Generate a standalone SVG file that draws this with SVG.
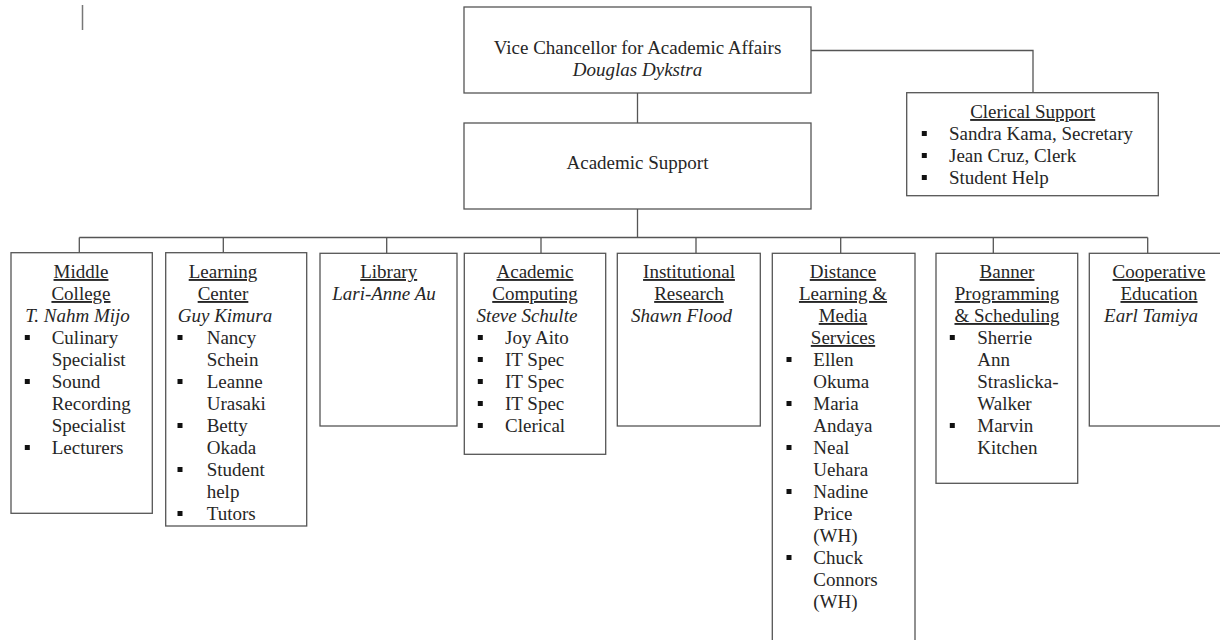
<svg xmlns="http://www.w3.org/2000/svg" width="1220" height="640" viewBox="0 0 1220 640">
<style>
.bx{fill:#fff;stroke:#555;stroke-width:1.3}
.ln{fill:none;stroke:#555;stroke-width:1.3}
.t text{font-family:'Liberation Serif','Times New Roman',Tinos,'DejaVu Serif',serif;font-size:19px;fill:#262626}
.c{text-anchor:middle}
.i{font-style:italic}
.u{text-decoration:underline}
.b{fill:#111}
</style>
<rect width="1220" height="640" fill="#fff"/>
<line x1="82.5" y1="5" x2="82.5" y2="30" stroke="#777" stroke-width="1.5"/>
<g id="connectors">
<path class="ln" d="M637.5,93 V123"/>
<path class="ln" d="M811,50.5 H1033 V92.7"/>
<path class="ln" d="M637.5,209 V237.5"/>
<path class="ln" d="M79.3,237.5 H1147.7"/>
<path class="ln" d="M79.3,237.5 V252.7 M223.3,237.5 V252.7 M386.7,237.5 V253.3 M541,237.5 V253.3 M696,237.5 V253.3 M840.7,237.5 V253.3 M993.3,237.5 V253.3 M1147.7,237.5 V253.3"/>
</g>
<g class="t" font-family="Liberation Serif, serif">
<g id="vc">
<rect class="bx" x="464" y="7" width="347" height="86"/>
<text class="c" x="637.5" y="54">Vice Chancellor for Academic Affairs</text>
<text class="c i" x="637.5" y="76">Douglas Dykstra</text>
</g>
<g id="academic-support">
<rect class="bx" x="464" y="123" width="347" height="86"/>
<text class="c" x="637.5" y="169">Academic Support</text>
</g>
<g id="clerical">
<rect class="bx" x="906.7" y="92.7" width="251.6" height="103"/>
<text class="c u" x="1032.7" y="118">Clerical Support</text>
<rect class="b" x="921.8" y="131" width="5" height="5"/>
<rect class="b" x="921.8" y="153" width="5" height="5"/>
<rect class="b" x="921.8" y="175" width="5" height="5"/>
<text x="949" y="140">Sandra Kama, Secretary</text>
<text x="949" y="162">Jean Cruz, Clerk</text>
<text x="949" y="184">Student Help</text>
</g>
<g id="middle-college">
<rect class="bx" x="11" y="252.7" width="141.3" height="260.6"/>
<text class="c u" x="81" y="278">Middle</text>
<text class="c u" x="81" y="300">College</text>
<text class="c i" x="77.5" y="322">T. Nahm Mijo</text>
<rect class="b" x="24.8" y="335" width="5" height="5"/>
<rect class="b" x="24.8" y="379" width="5" height="5"/>
<rect class="b" x="24.8" y="445" width="5" height="5"/>
<text x="51.7" y="344">Culinary</text>
<text x="51.7" y="366">Specialist</text>
<text x="51.7" y="388">Sound</text>
<text x="51.7" y="410">Recording</text>
<text x="51.7" y="432">Specialist</text>
<text x="51.7" y="454">Lecturers</text>
</g>
<g id="learning-center">
<rect class="bx" x="165.7" y="252.7" width="141" height="273.3"/>
<text class="c u" x="223" y="278">Learning</text>
<text class="c u" x="223" y="300">Center</text>
<text class="c i" x="225" y="322">Guy Kimura</text>
<rect class="b" x="177.5" y="335" width="5" height="5"/>
<rect class="b" x="177.5" y="379" width="5" height="5"/>
<rect class="b" x="177.5" y="423" width="5" height="5"/>
<rect class="b" x="177.5" y="467" width="5" height="5"/>
<rect class="b" x="177.5" y="511" width="5" height="5"/>
<text x="206.7" y="344">Nancy</text>
<text x="206.7" y="366">Schein</text>
<text x="206.7" y="388">Leanne</text>
<text x="206.7" y="410">Urasaki</text>
<text x="206.7" y="432">Betty</text>
<text x="206.7" y="454">Okada</text>
<text x="206.7" y="476">Student</text>
<text x="206.7" y="498">help</text>
<text x="206.7" y="520">Tutors</text>
</g>
<g id="library">
<rect class="bx" x="320" y="253.3" width="137" height="172.7"/>
<text class="c u" x="388.7" y="278">Library</text>
<text class="c i" x="384" y="300">Lari-Anne Au</text>
</g>
<g id="academic-computing">
<rect class="bx" x="464.3" y="253.3" width="141.4" height="201"/>
<text class="c u" x="535" y="278">Academic</text>
<text class="c u" x="535" y="300">Computing</text>
<text class="c i" x="527" y="322">Steve Schulte</text>
<rect class="b" x="477.8" y="335" width="5" height="5"/>
<rect class="b" x="477.8" y="357" width="5" height="5"/>
<rect class="b" x="477.8" y="379" width="5" height="5"/>
<rect class="b" x="477.8" y="401" width="5" height="5"/>
<rect class="b" x="477.8" y="423" width="5" height="5"/>
<text x="505" y="344">Joy Aito</text>
<text x="505" y="366">IT Spec</text>
<text x="505" y="388">IT Spec</text>
<text x="505" y="410">IT Spec</text>
<text x="505" y="432">Clerical</text>
</g>
<g id="institutional-research">
<rect class="bx" x="617.3" y="253.3" width="143" height="172.7"/>
<text class="c u" x="689" y="278">Institutional</text>
<text class="c u" x="689" y="300">Research</text>
<text class="c i" x="681.5" y="322">Shawn Flood</text>
</g>
<g id="distance-learning">
<rect class="bx" x="772.3" y="253.3" width="142.7" height="400"/>
<text class="c u" x="843" y="278">Distance</text>
<text class="c u" x="843" y="300">Learning &amp;</text>
<text class="c u" x="843" y="322">Media</text>
<text class="c u" x="843" y="344">Services</text>
<rect class="b" x="786.5" y="357" width="5" height="5"/>
<rect class="b" x="786.5" y="401" width="5" height="5"/>
<rect class="b" x="786.5" y="445" width="5" height="5"/>
<rect class="b" x="786.5" y="489" width="5" height="5"/>
<rect class="b" x="786.5" y="555" width="5" height="5"/>
<text x="813.3" y="366">Ellen</text>
<text x="813.3" y="388">Okuma</text>
<text x="813.3" y="410">Maria</text>
<text x="813.3" y="432">Andaya</text>
<text x="813.3" y="454">Neal</text>
<text x="813.3" y="476">Uehara</text>
<text x="813.3" y="498">Nadine</text>
<text x="813.3" y="520">Price</text>
<text x="813.3" y="542">(WH)</text>
<text x="813.3" y="564">Chuck</text>
<text x="813.3" y="586">Connors</text>
<text x="813.3" y="608">(WH)</text>
</g>
<g id="banner">
<rect class="bx" x="936" y="253.3" width="141.7" height="230"/>
<text class="c u" x="1007" y="278">Banner</text>
<text class="c u" x="1007" y="300">Programming</text>
<text class="c u" x="1007" y="322">&amp; Scheduling</text>
<rect class="b" x="949.8" y="335" width="5" height="5"/>
<rect class="b" x="949.8" y="423" width="5" height="5"/>
<text x="977.3" y="344">Sherrie</text>
<text x="977.3" y="366">Ann</text>
<text x="977.3" y="388">Straslicka-</text>
<text x="977.3" y="410">Walker</text>
<text x="977.3" y="432">Marvin</text>
<text x="977.3" y="454">Kitchen</text>
</g>
<g id="cooperative-education">
<rect class="bx" x="1089.3" y="253.3" width="145" height="172.7"/>
<text class="c u" x="1159" y="278">Cooperative</text>
<text class="c u" x="1159" y="300">Education</text>
<text class="c i" x="1151" y="322">Earl Tamiya</text>
</g>
</g>
</svg>
